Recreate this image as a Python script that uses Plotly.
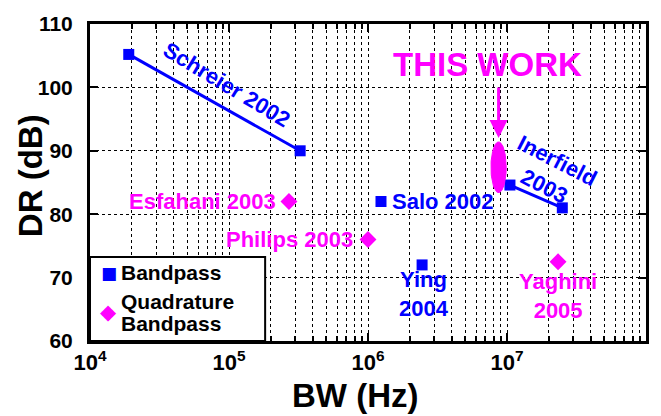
import numpy as np
import plotly.graph_objects as go

BLUE = "#0000FF"
MAG = "#FF00FF"
FONT = "Liberation Sans"

# Bandpass data
schreier_bw = [1.9e4, 3.25e5]
schreier_dr = [105.2, 90.0]
inerfield_bw = [1.05e7, 2.5e7]
inerfield_dr = [84.6, 81.0]
salo_bw = [1.24e6]
salo_dr = [82.0]
ying_bw = [2.45e6]
ying_dr = [72.0]

# Quadrature bandpass data
quad_names = ["Esfahani 2003", "Philips 2003", "Yaghini 2005"]
quad_bw = [2.7e5, 1.0e6, 2.33e7]
quad_dr = [82.0, 76.0, 72.5]

# This work (ellipse)
tw_bw = 8.7e6
tw_dr = 87.4
tw_dr_half = 4.0
tw_logbw_half = 0.055

x_tickvals = [1e4, 1e5, 1e6, 1e7, 1e8]
x_ticktext = ["10<sup>4</sup>", "10<sup>5</sup>", "10<sup>6</sup>", "10<sup>7</sup>", "10<sup>8</sup>"]
y_tickvals = [60, 70, 80, 90, 100, 110]

legend_labels = ["Bandpass", "Quadrature", "Bandpass"]


def bf(size, color="black"):
    return dict(family=FONT, size=size, color=color, weight="bold")


fig = go.Figure()

sq = dict(symbol="square", size=11, color=BLUE)
fig.add_trace(go.Scatter(x=schreier_bw, y=schreier_dr, mode="lines+markers", name="Schreier 2002",
                         line=dict(color=BLUE, width=3), marker=sq, showlegend=False))
fig.add_trace(go.Scatter(x=inerfield_bw, y=inerfield_dr, mode="lines+markers", name="Inerfield 2003",
                         line=dict(color=BLUE, width=3), marker=sq, showlegend=False))
fig.add_trace(go.Scatter(x=salo_bw + ying_bw, y=salo_dr + ying_dr, mode="markers", name="Bandpass",
                         marker=sq, showlegend=False))
fig.add_trace(go.Scatter(x=quad_bw, y=quad_dr, mode="markers", name="Quadrature Bandpass",
                         text=quad_names,
                         marker=dict(symbol="diamond", size=13, color=MAG), showlegend=False))

# ellipse
t = np.linspace(0, 2 * np.pi, 80)
ex = 10 ** (np.log10(tw_bw) + tw_logbw_half * np.cos(t))
ey = tw_dr + tw_dr_half * np.sin(t)
fig.add_trace(go.Scatter(x=ex, y=ey, mode="lines", fill="toself", fillcolor=MAG, name="This work",
                         line=dict(color=MAG, width=1), showlegend=False, hoverinfo="skip"))


def ann(text, x, y, color, size=22, xanchor="center", angle=0):
    fig.add_annotation(text=text, x=np.log10(x), y=y, xref="x", yref="y",
                       showarrow=False, xanchor=xanchor, yanchor="middle", textangle=angle,
                       font=bf(size, color))


ann("Schreier 2002", 10 ** 4.98, 100.4, BLUE, size=22, angle=31)
ann("Inerfield<br>2003", 10 ** 7.32, 86.4, BLUE, size=22, angle=27)
ann("Salo 2002", 10 ** 6.16, 82.0, BLUE, xanchor="left")
ann("Ying<br>2004", 10 ** 6.40, 67.4, BLUE)
ann("Esfahani 2003", 10 ** 5.35, 82.0, MAG, xanchor="right")
ann("Philips 2003", 10 ** 5.91, 76.0, MAG, xanchor="right")
ann("Yaghini<br>2005", 10 ** 7.37, 67.1, MAG)
ann("THIS WORK", 10 ** 6.86, 103.6, MAG, size=33)

fig.add_annotation(x=np.log10(tw_bw), y=tw_dr + tw_dr_half + 0.6, xref="x", yref="y",
                   ax=0, ay=-52, showarrow=True, arrowhead=2, arrowsize=1.2,
                   arrowwidth=3, arrowcolor=MAG, text="")

# axis titles
fig.add_annotation(text="BW (Hz)", xref="x domain", yref="y domain", x=0.477, y=-0.172,
                   showarrow=False, xanchor="center", yanchor="middle", font=bf(33))
fig.add_annotation(text="DR (dB)", xref="x domain", yref="y domain", x=-0.108, y=0.523,
                   showarrow=False, xanchor="center", yanchor="middle", textangle=-90, font=bf(33))

# legend box (manual)
fig.add_shape(type="rect", xref="x domain", yref="y domain", x0=0, x1=0.315, y0=0, y1=0.265,
              fillcolor="white", line=dict(color="black", width=2), layer="above")
fig.add_annotation(text="■", xref="x domain", yref="y domain", x=0.034, y=0.215,
                   showarrow=False, xanchor="center", yanchor="middle",
                   font=dict(family="DejaVu Sans", size=17, color=BLUE))
fig.add_annotation(text="◆", xref="x domain", yref="y domain", x=0.034, y=0.093,
                   showarrow=False, xanchor="center", yanchor="middle",
                   font=dict(family="DejaVu Sans", size=21, color=MAG))
for lbl, yy in zip(legend_labels, [0.215, 0.126, 0.055]):
    fig.add_annotation(text=lbl, xref="x domain", yref="y domain", x=0.052, y=yy,
                       showarrow=False, xanchor="left", yanchor="middle", font=bf(21))

fig.update_xaxes(type="log", range=[4, 8], tickvals=x_tickvals, ticktext=x_ticktext,
                 showline=True, linewidth=3, linecolor="black", mirror="ticks",
                 ticks="inside", ticklen=8, tickwidth=2, tickcolor="black",
                 showgrid=True, gridcolor="black", griddash="dot", gridwidth=1,
                 minor=dict(ticks="inside", ticklen=5, tickwidth=2, tickcolor="black",
                            showgrid=True, gridcolor="black", griddash="dot", gridwidth=1,
                            dtick="D1"),
                 tickfont=bf(22),
                 zeroline=False)
fig.update_yaxes(range=[60, 110], tickvals=y_tickvals,
                 showline=True, linewidth=3, linecolor="black", mirror="ticks",
                 ticks="inside", ticklen=8, tickwidth=2, tickcolor="black",
                 showgrid=True, gridcolor="black", griddash="dot", gridwidth=1,
                 tickfont=bf(21), ticklabelstandoff=10,
                 zeroline=False)

fig.update_layout(
    width=661, height=416,
    margin=dict(l=90, r=15, t=16, b=75),
    paper_bgcolor="white", plot_bgcolor="white",
    showlegend=False,
)

fig.write_html("out.html")
